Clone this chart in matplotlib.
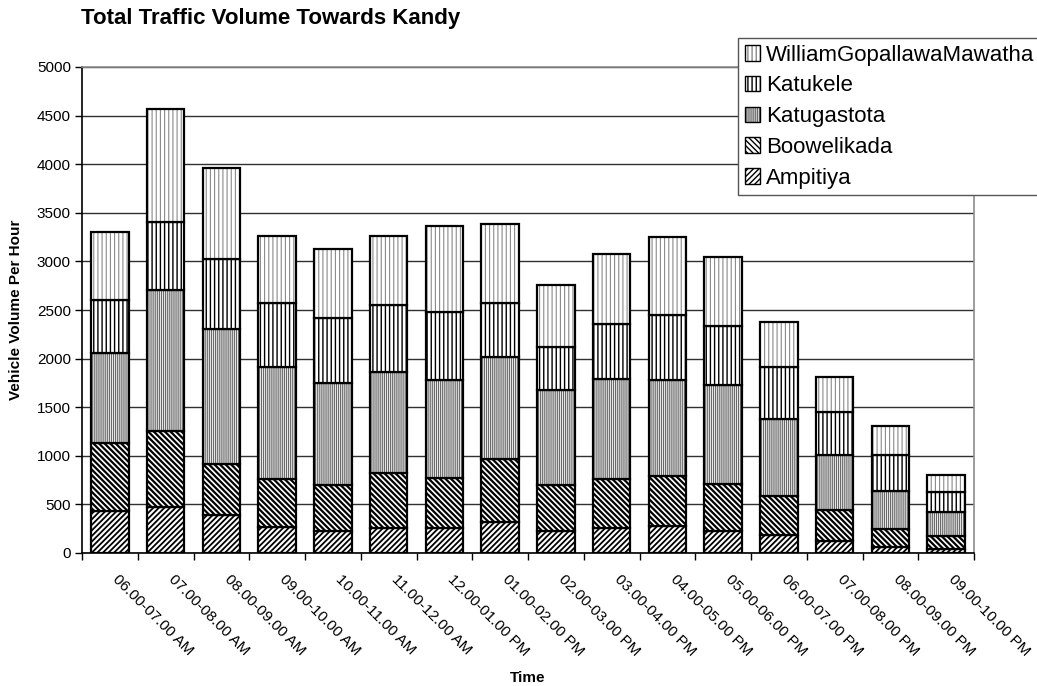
import numpy as np
import matplotlib
matplotlib.use('Agg')
import matplotlib.pyplot as plt
import matplotlib.transforms as mtrans
from matplotlib.legend_handler import HandlerTuple

plt.rcParams['font.family'] = ['Liberation Sans', 'DejaVu Sans']
plt.rcParams['hatch.linewidth'] = 1.0

times = ['06.00-07.00 AM', '07.00-08.00 AM', '08.00-09.00 AM', '09.00-10.00 AM',
         '10.00-11.00 AM', '11.00-12.00 AM', '12.00-01.00 PM', '01.00-02.00 PM',
         '02.00-03.00 PM', '03.00-04.00 PM', '04.00-05.00 PM', '05.00-06.00 PM',
         '06.00-07.00 PM', '07.00-08.00 PM', '08.00-09.00 PM', '09.00-10.00 PM']

ampitiya = [435, 470, 391, 264, 223, 257, 254, 315, 226, 261, 278, 229, 182, 127, 59, 41]
boowelikada = [694, 789, 521, 494, 473, 563, 514, 652, 474, 500, 514, 478, 404, 312, 188, 134]
katugastota = [925, 1447, 1389, 1159, 1050, 1046, 1012, 1046, 977, 1026, 985, 1021, 789, 569, 394, 247]
katukele = [554, 703, 720, 658, 672, 682, 703, 562, 442, 572, 672, 611, 539, 439, 364, 206]
wgm = [698, 1159, 940, 683, 706, 710, 885, 806, 641, 717, 805, 711, 459, 367, 302, 171]

# name, values, hatch, hatch colour, hatch line width
series = [('Ampitiya', ampitiya, '//////', 'black', 1.3),
          ('Boowelikada', boowelikada, '\\\\\\\\\\\\', 'black', 1.6),
          ('Katugastota', katugastota, '||||||||', '#6a6a6a', 0.9),
          ('Katukele', katukele, '||||', 'black', 1.0),
          ('WilliamGopallawaMawatha', wgm, '||||', '#8a8a8a', 0.8)]

W, H = 1037, 686
fig = plt.figure(figsize=(W / 100, H / 100), dpi=100)
ax = fig.add_axes([82 / W, 133 / H, 892 / W, 486 / H])

x = np.arange(len(times))
bottom = np.zeros(len(times))
handles = []
for name, vals, hatch, hcol, hlw in series:
    vals = np.array(vals, dtype=float)
    with plt.rc_context({'hatch.linewidth': hlw}):
        fill = ax.bar(x, vals, 0.67, bottom=bottom, color='white', edgecolor=hcol,
                      linewidth=0, hatch=hatch)
    for p in fill:
        if hasattr(p, 'set_hatch_linewidth'):
            p.set_hatch_linewidth(hlw)
    ax.bar(x, vals, 0.67, bottom=bottom, fill=False, edgecolor='black', linewidth=1.6)
    with plt.rc_context({'hatch.linewidth': hlw}):
        h = plt.Rectangle((0, 0), 1, 1, facecolor='white', edgecolor=hcol,
                          hatch=hatch, linewidth=0)
    if hasattr(h, 'set_hatch_linewidth'):
        h.set_hatch_linewidth(hlw)
    box = plt.Rectangle((0, 0), 1, 1, fill=False, edgecolor='black', linewidth=1.0)
    handles.append((h, box))
    bottom += vals

ax.set_xlim(-0.5, len(times) - 0.5)
ax.set_ylim(0, 5000)
ax.set_yticks(np.arange(0, 5001, 500))
ax.yaxis.grid(True, color='#303030', linewidth=1.0)
ax.set_axisbelow(True)

ax.set_xticks(x)
ax.set_xticklabels(times, rotation=-45, ha='left', va='top', rotation_mode='anchor')
ax.set_xticks(np.arange(-0.5, len(times)), minor=True)
ax.tick_params(axis='x', which='major', length=0, pad=14, labelsize=11)
ax.tick_params(axis='x', which='minor', length=5, width=1, color='black')
ax.tick_params(axis='y', length=5, width=1, labelsize=11, pad=3)
shift = mtrans.ScaledTranslation(10 / 100, 0, fig.dpi_scale_trans)
for lab in ax.get_xticklabels():
    lab.set_transform(lab.get_transform() + shift)

for s in ['left', 'bottom']:
    ax.spines[s].set_color('black')
    ax.spines[s].set_linewidth(1.2)
for s in ['top', 'right']:
    ax.spines[s].set_color('#8c8c8c')
    ax.spines[s].set_linewidth(1.2)

ax.set_xlabel('Time', fontsize=11, fontweight='bold', va='center')
ax.xaxis.set_label_coords(0.5, -0.257)
ax.set_ylabel('Vehicle Volume Per Hour', fontsize=11, fontweight='bold', va='center')
ax.yaxis.set_label_coords(-0.074, 0.5)

fig.text(81 / W, 1 - 24 / H, 'Total Traffic Volume Towards Kandy', fontsize=16,
         fontweight='bold', ha='left', va='baseline')

leg = ax.legend(handles[::-1], [s[0] for s in series][::-1], loc='upper left',
                bbox_to_anchor=(738 / W, 1 - 38 / H), bbox_transform=fig.transFigure,
                handler_map={tuple: HandlerTuple(ndivide=1, pad=0)},
                fontsize=16, frameon=True, fancybox=False, shadow=False,
                borderpad=0.3, labelspacing=0.44, handlelength=0.7, handleheight=0.7,
                handletextpad=0.25, borderaxespad=0)
leg.get_frame().set_edgecolor('#555555')
leg.get_frame().set_linewidth(1.0)
leg.get_frame().set_alpha(1)

fig.savefig('out.png', dpi=100)
